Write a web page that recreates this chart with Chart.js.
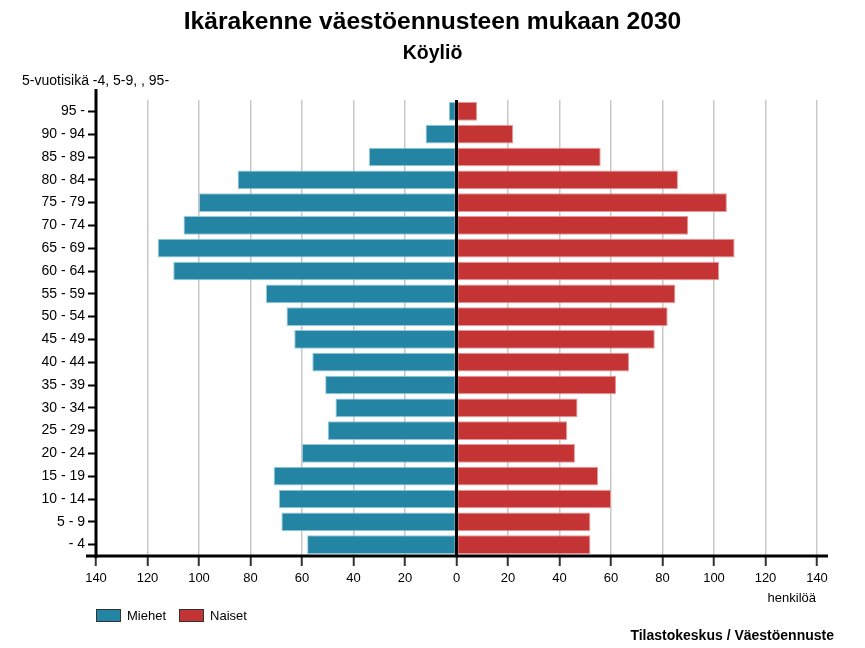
<!DOCTYPE html>
<html>
<head>
<meta charset="utf-8">
<script src="https://cdn.jsdelivr.net/npm/chart.js@4.4.1/dist/chart.umd.min.js"></script>
<style>
  html, body { margin: 0; padding: 0; background: #fff; }
  #wrap { position: relative; width: 865px; height: 648px; font-family: "Liberation Sans", Arial, sans-serif; color: #000; }
  canvas { position: absolute; left: 0; top: 0; }
  .t { position: absolute; white-space: nowrap; line-height: 1; }
  #title { left: 0; width: 865px; top: 9px; text-align: center; font-weight: bold; font-size: 24.6px; }
  #sub { left: 0; width: 865px; top: 43px; text-align: center; font-weight: bold; font-size: 19.5px; }
  #ylab { left: 22px; top: 73px; font-size: 14px; }
  #xlab { right: 49px; top: 591px; font-size: 13px; }
  #src { right: 31px; top: 628px; font-size: 14px; font-weight: bold; }
  #legend { position: absolute; left: 96px; top: 608px; font-size: 13px; display: flex; align-items: center; }
  .box { display: inline-block; width: 23px; height: 11px; border: 1px solid #333; margin-right: 6px; }
  .item { display: flex; align-items: center; margin-right: 13px; }
</style>
</head>
<body>
<div id="wrap">
  <canvas id="c" width="865" height="648"></canvas>
  <div class="t" id="title">Ikärakenne väestöennusteen mukaan 2030</div>
  <div class="t" id="sub">Köyliö</div>
  <div class="t" id="ylab">5-vuotisikä -4, 5-9, , 95-</div>
  <div class="t" id="xlab">henkilöä</div>
  <div class="t" id="src">Tilastokeskus / Väestöennuste</div>
  <div id="legend"></div>
</div>
<script>
const ageGroups = ["95 -", "90 - 94", "85 - 89", "80 - 84", "75 - 79", "70 - 74", "65 - 69", "60 - 64",
  "55 - 59", "50 - 54", "45 - 49", "40 - 44", "35 - 39", "30 - 34", "25 - 29", "20 - 24",
  "15 - 19", "10 - 14", "5 - 9", "- 4"];
const men   = [3, 12, 34, 85, 100, 106, 116, 110, 74, 66, 63, 56, 51, 47, 50, 60, 71, 69, 68, 58];
const women = [8, 22, 56, 86, 105, 90, 108, 102, 85, 82, 77, 67, 62, 47, 43, 46, 55, 60, 52, 52];
const seriesNames = ["Miehet", "Naiset"];
const xTicksMin = -140, xTicksMax = 140, xStep = 20;

const blue = "#2384a4", red = "#c43434";

const lg = document.getElementById("legend");
[[seriesNames[0], blue], [seriesNames[1], red]].forEach(([n, c]) => {
  const it = document.createElement("span"); it.className = "item";
  const b = document.createElement("span"); b.className = "box"; b.style.background = c;
  it.appendChild(b); it.appendChild(document.createTextNode(n)); lg.appendChild(it);
});

const axisPlugin = {
  id: "axisLines",
  afterDatasetsDraw(chart) {
    const { ctx, chartArea: a, scales: { x } } = chart;
    ctx.save();
    ctx.strokeStyle = "#000";
    const z = x.getPixelForValue(0);
    ctx.lineWidth = 3;
    ctx.beginPath(); ctx.moveTo(z, a.top); ctx.lineTo(z, a.bottom); ctx.stroke();
    ctx.beginPath(); ctx.moveTo(a.left, a.top - 11); ctx.lineTo(a.left, a.bottom + 2); ctx.stroke();
    ctx.beginPath(); ctx.moveTo(a.left - 10, a.bottom); ctx.lineTo(a.right + 11, a.bottom); ctx.stroke();
    ctx.restore();
  }
};

new Chart(document.getElementById("c"), {
  type: "bar",
  data: {
    labels: ageGroups,
    datasets: [
      { label: seriesNames[0], data: men.map(v => -v), backgroundColor: blue, borderColor: "rgba(140,195,214,0.9)", borderWidth: 1, borderSkipped: false },
      { label: seriesNames[1], data: women, backgroundColor: red, borderColor: "rgba(228,140,140,0.9)", borderWidth: 1, borderSkipped: false }
    ]
  },
  options: {
    indexAxis: "y",
    responsive: false,
    animation: false,
    devicePixelRatio: 1,
    layout: { padding: { top: 100, left: 0, right: 48, bottom: 52 } },
    datasets: { bar: { categoryPercentage: 1, barPercentage: 0.82 } },
    plugins: { legend: { display: false }, tooltip: { enabled: false }, title: { display: false } },
    scales: {
      x: {
        stacked: true,
        min: xTicksMin, max: xTicksMax,
        afterFit(s) { s.height = 40; },
        border: { display: false },
        grid: {
          color: ctx => (ctx.tick && ctx.tick.value === 0) ? "rgba(0,0,0,0)" : "#c8c8c8",
          lineWidth: 1.5,
          drawTicks: true, tickLength: 10, tickColor: "#333", tickWidth: 2
        },
        ticks: {
          stepSize: xStep, padding: 5, color: "#000",
          font: { family: "'Liberation Sans', Arial, sans-serif", size: 13 },
          callback: v => Math.abs(v)
        }
      },
      y: {
        stacked: true,
        afterFit(s) { s.width = 96; },
        border: { display: false },
        grid: { offset: false, drawOnChartArea: false, drawTicks: true, tickLength: 8, tickColor: "#000", tickWidth: 2 },
        ticks: { color: "#000", padding: 3, font: { family: "'Liberation Sans', Arial, sans-serif", size: 14 } }
      }
    }
  },
  plugins: [axisPlugin]
});
</script>
</body>
</html>
